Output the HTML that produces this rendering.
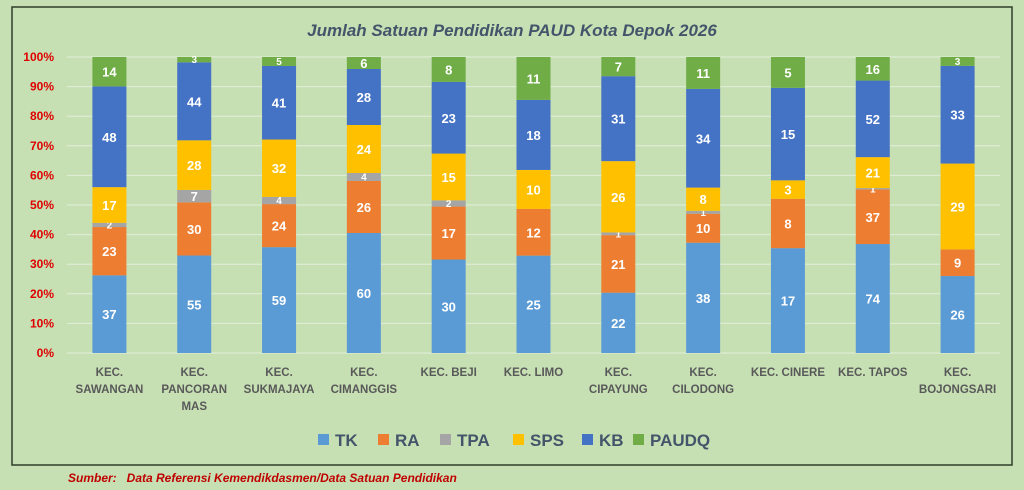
<!DOCTYPE html>
<html><head><meta charset="utf-8"><style>
body{margin:0;background:#c6e0b4;width:1024px;height:490px;overflow:hidden;font-family:"Liberation Sans",sans-serif}
svg{display:block}
</style></head><body>
<svg id="chart" width="1024" height="490">
<rect x="12" y="7" width="1000" height="458" fill="#c6e0b4" stroke="#2f3f2a" stroke-width="1.5"/>
<text x="512" y="36" text-anchor="middle" font-size="17" font-weight="bold" font-style="italic" fill="#44546a">Jumlah Satuan Pendidikan PAUD Kota Depok 2026</text>
<g id="grid"></g><g id="bars"></g><g id="xl"></g><g id="legend"></g>
<text x="68" y="482" font-size="12" font-weight="bold" font-style="italic" fill="#c00000">Sumber:&#160;&#160; Data Referensi Kemendikdasmen/Data Satuan Pendidikan</text>
</svg>
<script>
const categories=[["KEC.","SAWANGAN"],["KEC.","PANCORAN","MAS"],["KEC.","SUKMAJAYA"],["KEC.","CIMANGGIS"],["KEC. BEJI"],["KEC. LIMO"],["KEC.","CIPAYUNG"],["KEC.","CILODONG"],["KEC. CINERE"],["KEC. TAPOS"],["KEC.","BOJONGSARI"]];
const seriesNames=["TK","RA","TPA","SPS","KB","PAUDQ"];
const TK=[37,55,59,60,30,25,22,38,17,74,26];
const RA=[23,30,24,26,17,12,21,10,8,37,9];
const TPA=[2,7,4,4,2,0,1,1,0,1,0];
const SPS=[17,28,32,24,15,10,26,8,3,21,29];
const KB=[48,44,41,28,23,18,31,34,15,52,33];
const PAUDQ=[14,3,5,6,8,11,7,11,5,16,3];
const yTicks=[0,10,20,30,40,50,60,70,80,90,100];
const colors=["#5b9bd5","#ed7d31","#a5a5a5","#ffc000","#4472c4","#70ad47"];
const series=[TK,RA,TPA,SPS,KB,PAUDQ];
const NS="http://www.w3.org/2000/svg";
const x0=67,x1=1000,yTop=57,yBot=353,bw=34;
const step=(x1-x0)/categories.length;
const xC=i=>x0+step*(i+0.5);
const yP=p=>yBot-(yBot-yTop)*p/100;
function mk(t,a,p,txt){const e=document.createElementNS(NS,t);for(const k in a)e.setAttribute(k,a[k]);if(txt!==undefined)e.textContent=txt;p.appendChild(e);return e;}
const g=document.getElementById("grid");
yTicks.forEach(v=>{
 const l=mk("line",{x1:x0,x2:x1,y1:yP(v),y2:yP(v),stroke:"#e2eed9","stroke-width":1},g);
 
 
 const t=mk("text",{x:54,y:yP(v)+4,"text-anchor":"end","font-size":12,"font-weight":"bold",fill:"#e00000"},g,v+"%");
 
 
});
const b=document.getElementById("bars");
categories.forEach((c,i)=>{
 const tot=series.reduce((s,a)=>s+a[i],0);let cum=0;
 series.forEach((a,k)=>{
  const v=a[i];if(!v)return;
  const ya=yP(cum/tot*100),yb=yP((cum+v)/tot*100);cum+=v;
  const r=mk("rect",{x:xC(i)-bw/2,y:yb,width:bw,height:ya-yb,fill:colors[k]},b);
  
  
  const h=ya-yb;
  const t=mk("text",{x:xC(i),y:(ya+yb)/2+(h<10?3.5:5),"text-anchor":"middle","font-size":h<10?10:13,"font-weight":"bold",fill:"#fff"},b,v);
  
  
 });
 const xl=document.getElementById("xl");
 c.forEach((ln,j)=>{
  const t=mk("text",{x:xC(i),y:376+j*17,"text-anchor":"middle","font-size":11.5,"font-weight":"bold",fill:"#595959"},xl,ln);
  
  
 });
});
const lg=document.getElementById("legend");
const lx=[318,378,440,513,582,633];
seriesNames.forEach((n,k)=>{
 const s=mk("rect",{x:lx[k],y:434,width:11,height:11,fill:colors[k]},lg);
 
 
 const t=mk("text",{x:lx[k]+17,y:446,"font-size":17,"font-weight":"bold",fill:"#44546a"},lg,n);
 
 
});
</script>
</body></html>
